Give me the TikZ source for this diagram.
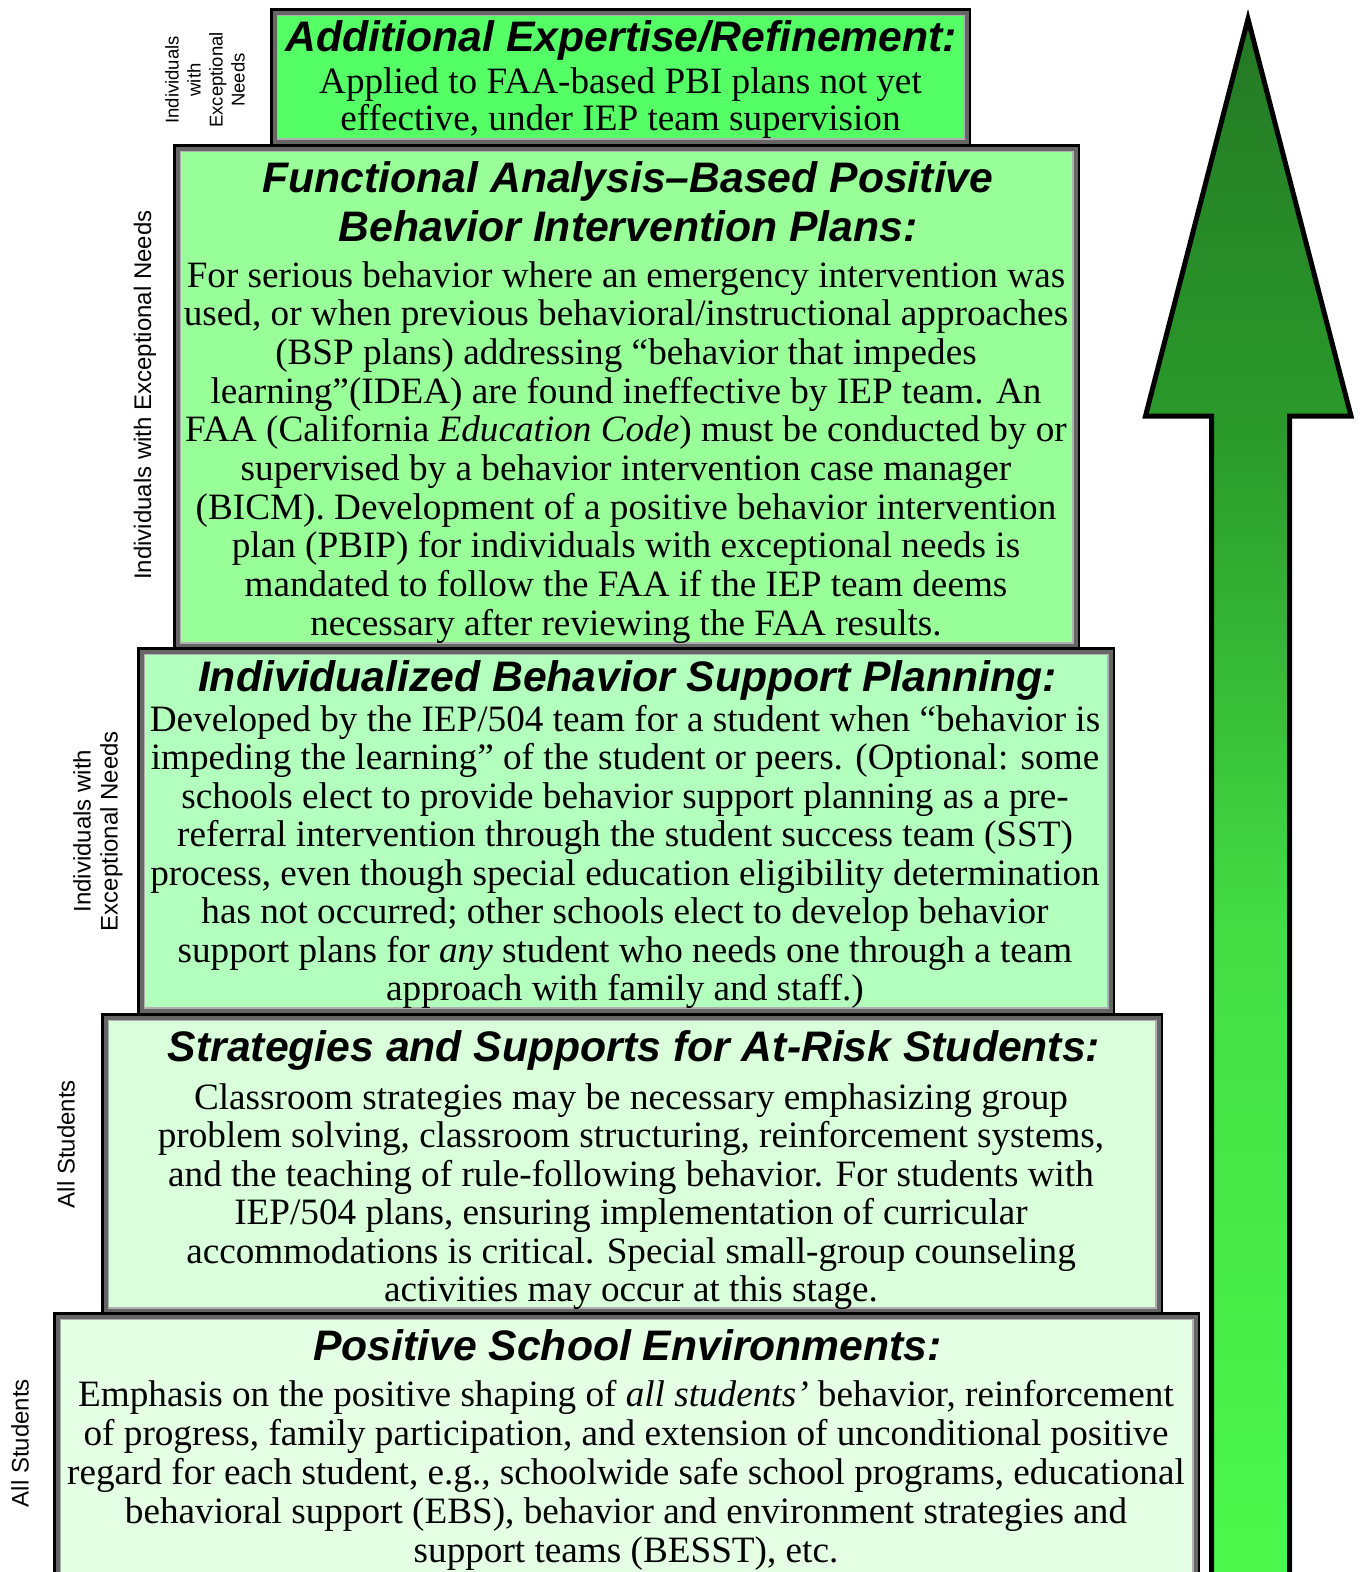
\documentclass[tikz,border=0pt]{standalone}
\usepackage{fontspec}
\setmainfont{Liberation Serif}
\newfontfamily\arialf{Liberation Sans}
\definecolor{fillA}{RGB}{85,255,102}
\definecolor{fillB}{RGB}{153,255,153}
\definecolor{fillC}{RGB}{179,255,189}
\definecolor{fillD}{RGB}{217,255,219}
\definecolor{fillE}{RGB}{229,255,229}
\definecolor{bandDark}{RGB}{102,102,102}
\definecolor{bandLight}{RGB}{176,176,176}
\definecolor{arB}{RGB}{76,250,76}
\definecolor{arC}{RGB}{68,221,68}
\definecolor{arD}{RGB}{42,154,42}
\definecolor{arE}{RGB}{38,130,38}
\definecolor{arF}{RGB}{36,118,36}
\pgfdeclareverticalshading{arrowshade}{100bp}{color(0bp)=(arB); color(25bp)=(arB); color(46.4bp)=(arC); color(62.1bp)=(arD); color(71.8bp)=(arE); color(75bp)=(arF); color(100bp)=(arF)}
\tikzset{
  tier/.style={draw=black, line width=2.5pt, rectangle, inner sep=0pt, outer sep=0pt},
  banddark/.style={draw=bandDark, line width=4pt},
  bandlight/.style={draw=bandLight, line width=1.5pt},
  tiertitle/.style={font=\arialf\bfseries\itshape\fontsize{42.7}{49}\selectfont, align=center, inner sep=0pt, anchor=north},
  tierbody/.style={font=\fontsize{37.2}{38.7}\selectfont, align=center, inner sep=0pt, anchor=north},
  sidelabel/.style={font=\arialf\fontsize{24}{27}\selectfont, rotate=90, align=center, inner sep=0pt},
  smalllabel/.style={font=\arialf\fontsize{18.5}{22}\selectfont, rotate=90, align=center, inner sep=0pt},
}
\newcommand\tierbands[1]{%
  \draw[banddark] ([xshift=3.25pt,yshift=-3.25pt]#1.north west) rectangle ([xshift=-3.25pt,yshift=3.25pt]#1.south east);
  \draw[bandlight] ([xshift=6pt,yshift=-6pt]#1.north west) rectangle ([xshift=-6pt,yshift=6pt]#1.south east);
}
\begin{document}
\begin{tikzpicture}[x=1pt,y=-1pt]
\useasboundingbox (0,0) rectangle (1362,1572);
% tiers (top first so lower tiers overlay shared edges)
\node[tier, fill=fillA, minimum width=698.5, minimum height=135.5] (b1) at (620.5,77) {};
\tierbands{b1}
\node[tier, fill=fillB, minimum width=904.5, minimum height=503.5] (b2) at (626.5,397) {};
\tierbands{b2}
\node[tier, fill=fillC, minimum width=975.5, minimum height=365.5] (b3) at (626,831) {};
\tierbands{b3}
\node[tier, fill=fillD, minimum width=1059.5, minimum height=299.5] (b4) at (632,1164) {};
\tierbands{b4}
\node[tier, fill=fillE, minimum width=1144.5, minimum height=285.5] (b5) at (626.5,1456) {};
\tierbands{b5}
% arrow
\shadedraw[shading=arrowshade, draw=black, line width=5pt, line join=miter]
  (1248,19) -- (1351,416) -- (1289.5,416) -- (1289.5,1610) -- (1211.5,1610) -- (1211.5,416) -- (1145.5,416) -- cycle;
% texts
\node[tiertitle] (t1) at (621.5,20) {Additional Expertise/Refinement:};
\node[tierbody, font=\fontsize{37.2}{37.5}\selectfont] (d1) at (620.5,67) {Applied to FAA-based PBI plans not yet\\effective, under IEP team supervision};
\node[tiertitle] (t2) at (628,161) {Functional Analysis–Based Positive\\Behavior Intervention Plans:};
\node[tierbody] (d2) at (626,261) {For serious behavior where an emergency intervention was\\used, or when previous behavioral/instructional approaches\\(BSP plans) addressing “behavior that impedes\\learning”(IDEA) are found ineffective by IEP team. An\\FAA (California \textit{Education Code}) must be conducted by or\\supervised by a behavior intervention case manager\\(BICM). Development of a positive behavior intervention\\plan (PBIP) for individuals with exceptional needs is\\mandated to follow the FAA if the IEP team deems\\necessary after reviewing the FAA results.};
\node[tiertitle] (t3) at (627.5,660) {Individualized Behavior Support Planning:};
\node[tierbody, font=\fontsize{37.2}{38.5}\selectfont] (d3) at (625,705) {Developed by the IEP/504 team for a student when “behavior is\\impeding the learning” of the student or peers. (Optional: some\\schools elect to provide behavior support planning as a pre-\\referral intervention through the student success team (SST)\\process, even though special education eligibility determination\\has not occurred; other schools elect to develop behavior\\support plans for \textit{any} student who needs one through a team\\approach with family and staff.)};
\node[tiertitle] (t4) at (634,1030) {Strategies and Supports for At-Risk Students:};
\node[tierbody, font=\fontsize{37.2}{38.5}\selectfont] (d4) at (631,1083) {Classroom strategies may be necessary emphasizing group\\problem solving, classroom structuring, reinforcement systems,\\and the teaching of rule-following behavior. For students with\\IEP/504 plans, ensuring implementation of curricular\\accommodations is critical. Special small-group counseling\\activities may occur at this stage.};
\node[tiertitle] (t5) at (627.5,1329) {Positive School Environments:};
\node[tierbody, font=\fontsize{37.2}{38.9}\selectfont] (d5) at (626,1380) {Emphasis on the positive shaping of \textit{all students’} behavior, reinforcement\\of progress, family participation, and extension of unconditional positive\\regard for each student, e.g., schoolwide safe school programs, educational\\behavioral support (EBS), behavior and environment strategies and\\support teams (BESST), etc.};
% side labels
\node[smalllabel] (s1) at (205,80) {Individuals\\with\\Exceptional\\Needs};
\node[sidelabel] (s2) at (145,395) {Individuals with Exceptional Needs};
\node[sidelabel] (s3) at (98,831) {Individuals with\\Exceptional Needs};
\node[sidelabel] (s4) at (66,1144) {All Students};
\node[sidelabel] (s5) at (20,1443) {All Students};
\end{tikzpicture}
\end{document}
